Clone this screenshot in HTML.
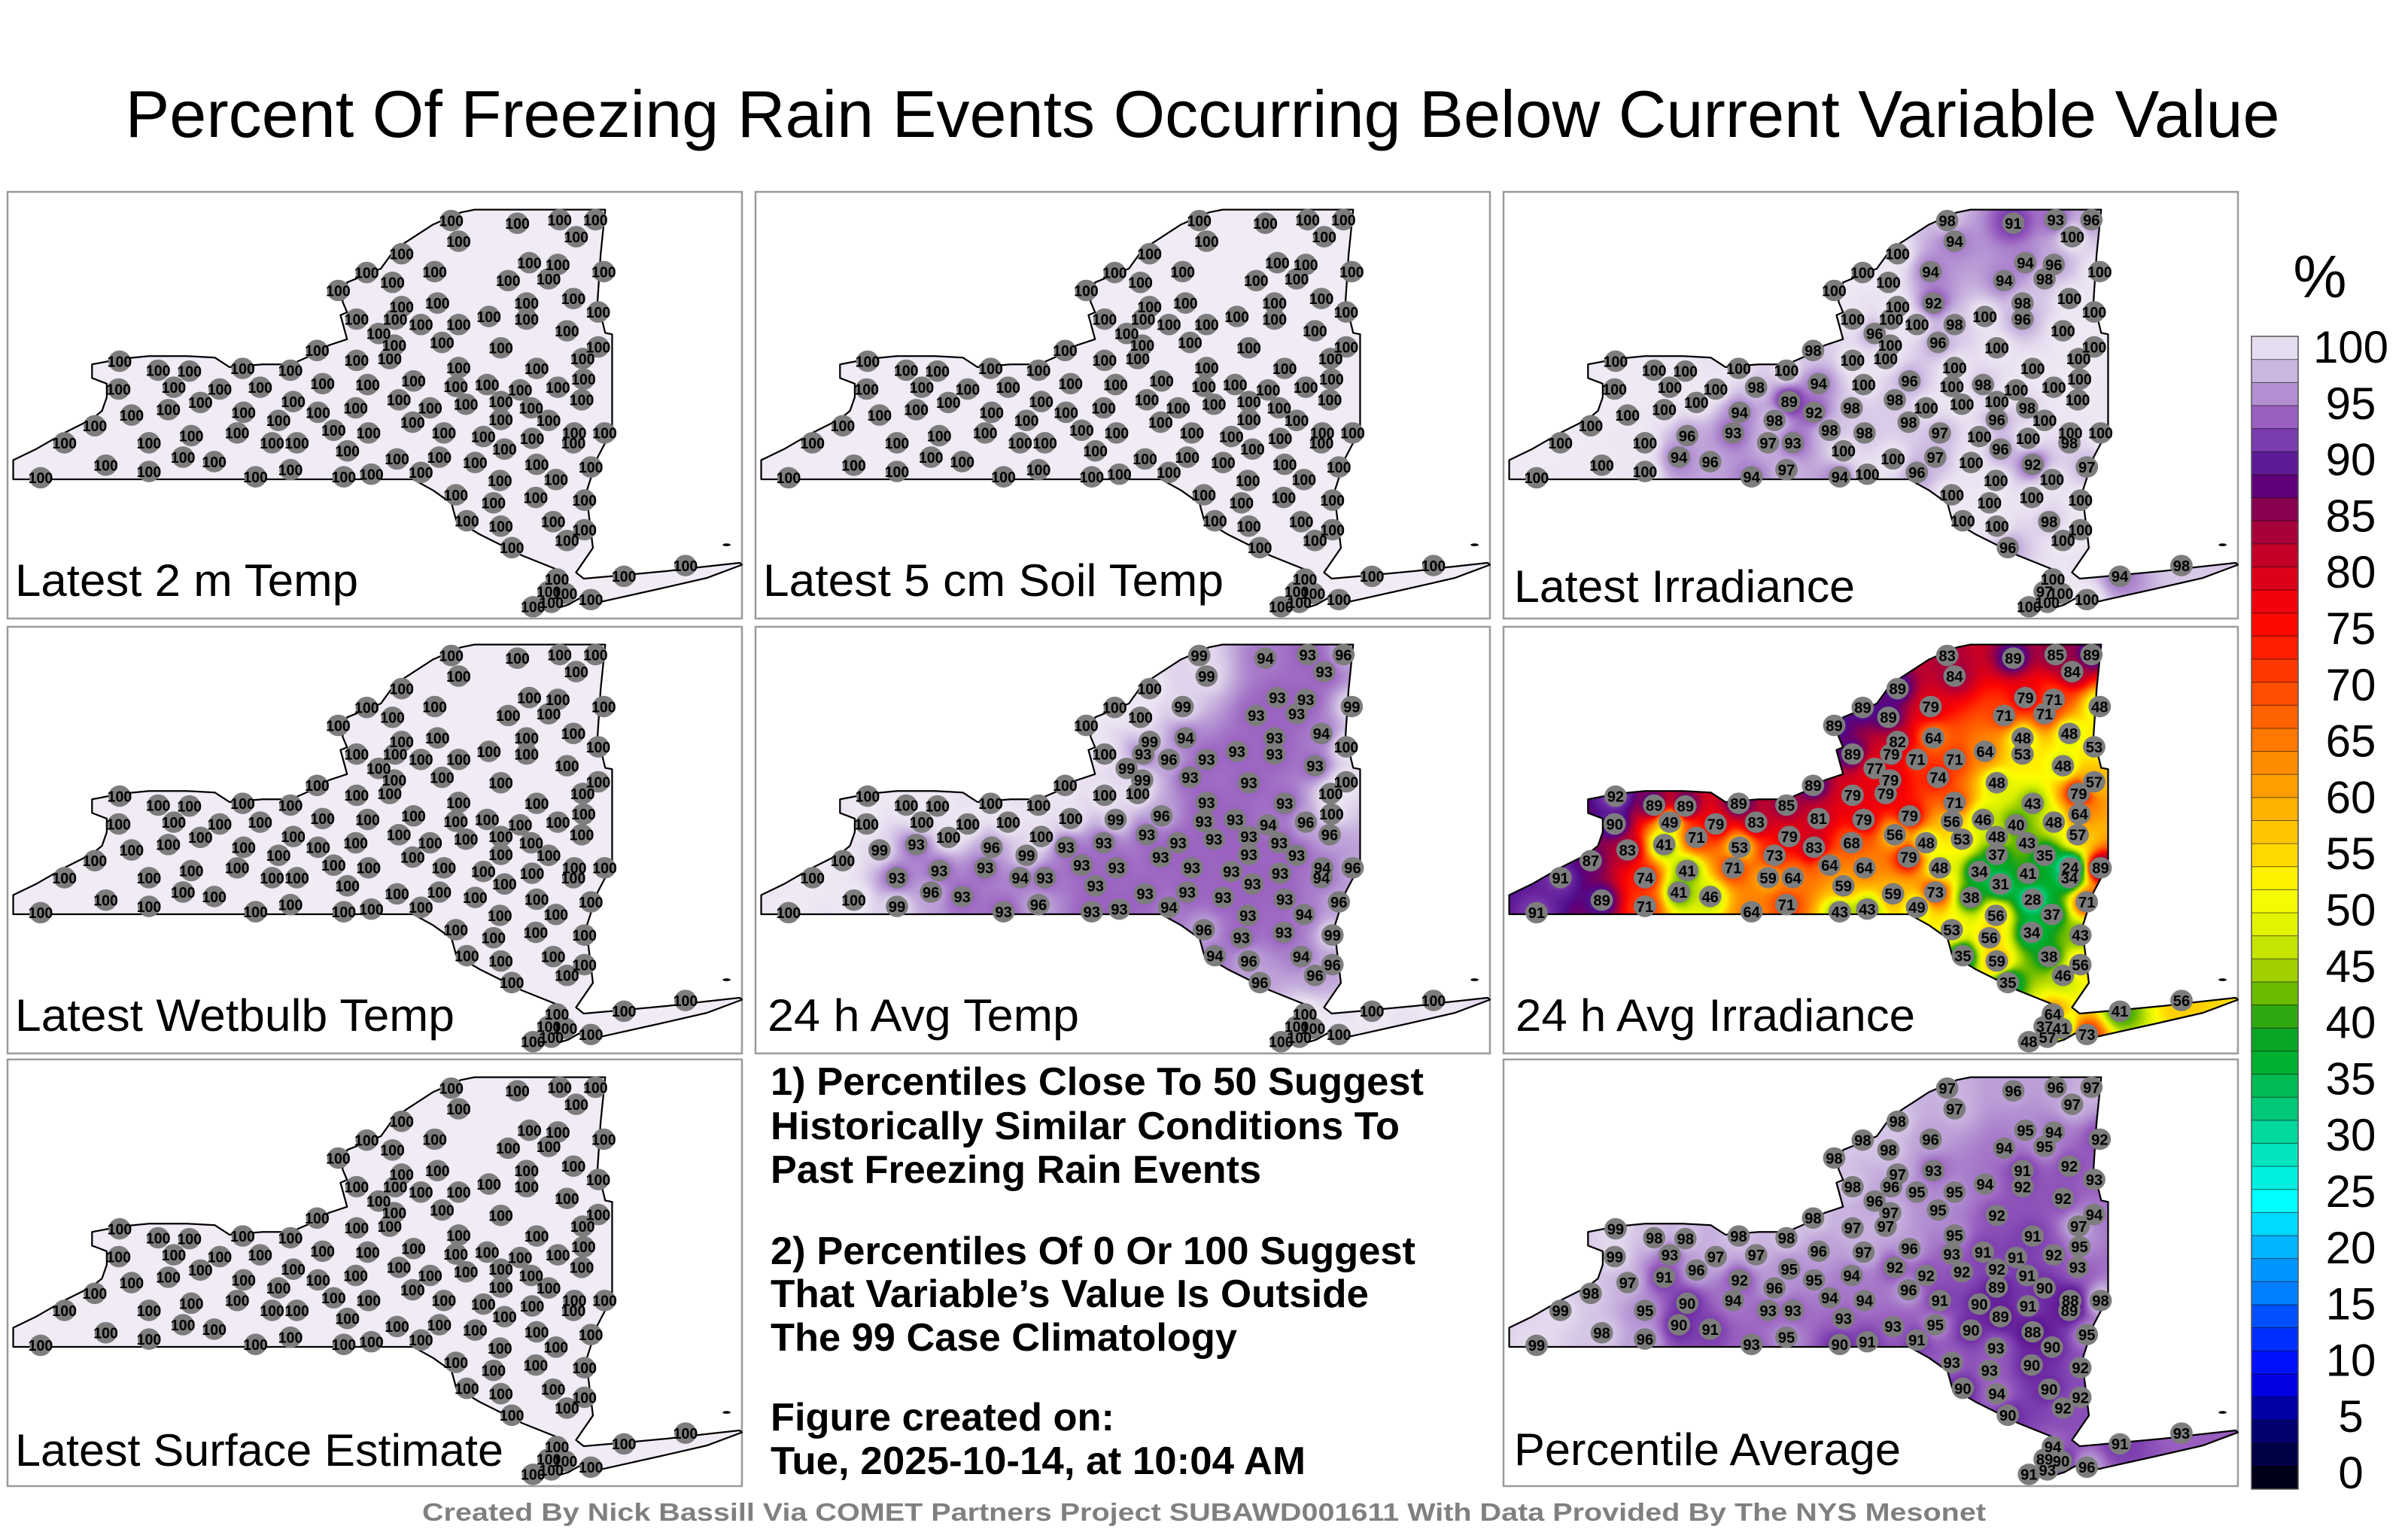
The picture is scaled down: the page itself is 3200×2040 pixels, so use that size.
<!DOCTYPE html>
<html><head><meta charset="utf-8">
<style>
html,body{margin:0;padding:0;background:#fff}
body{width:3200px;height:2040px;position:relative;overflow:hidden;font-family:"Liberation Sans",sans-serif}
canvas{position:absolute}
#overlay{position:absolute;left:0;top:0}
</style></head>
<body>
<div id="maps"></div>
<svg id="overlay" width="3200" height="2040" xmlns="http://www.w3.org/2000/svg">
<text x="1598" y="182" text-anchor="middle" font-size="88" textLength="2863" lengthAdjust="spacingAndGlyphs" fill="#000">Percent Of Freezing Rain Events Occurring Below Current Variable Value</text>
<g id="panels"></g>
<g id="notes" font-weight="bold" font-size="52" fill="#000">
<text x="1024" y="1455" textLength="868" lengthAdjust="spacingAndGlyphs">1) Percentiles Close To 50 Suggest</text>
<text x="1024" y="1514" textLength="836" lengthAdjust="spacingAndGlyphs">Historically Similar Conditions To</text>
<text x="1024" y="1572" textLength="652" lengthAdjust="spacingAndGlyphs">Past Freezing Rain Events</text>
<text x="1024" y="1680" textLength="857" lengthAdjust="spacingAndGlyphs">2) Percentiles Of 0 Or 100 Suggest</text>
<text x="1024" y="1737" textLength="795" lengthAdjust="spacingAndGlyphs">That Variable’s Value Is Outside</text>
<text x="1024" y="1795" textLength="620" lengthAdjust="spacingAndGlyphs">The 99 Case Climatology</text>
<text x="1024" y="1901" textLength="457" lengthAdjust="spacingAndGlyphs">Figure created on:</text>
<text x="1024" y="1959" textLength="711" lengthAdjust="spacingAndGlyphs">Tue, 2025-10-14, at 10:04 AM</text>
</g>
<text x="1600" y="2021" text-anchor="middle" font-size="33" font-weight="bold" fill="#808080" textLength="2078" lengthAdjust="spacingAndGlyphs">Created By Nick Bassill Via COMET Partners Project SUBAWD001611 With Data Provided By The NYS Mesonet</text>
<g id="colorbar">
<text x="3083" y="395" text-anchor="middle" font-size="80">%</text>
</g>
</svg>
<script>
// ---- station data (longitude / latitude) ----
const stationLon = [-74.99,-74.27,-73.81,-73.42,-73.63,-74.91,-75.53,-75.17,-75.91,-75.63,-76.22,-74.14,-73.83,-74.37,-73.93,-73.33,-75.14,-75.53,-74.17,-73.66,-76.02,-75.60,-75.32,-74.91,-74.58,-74.17,-73.39,-75.78,-73.73,-75.09,-75.61,-74.45,-73.39,-76.45,-76.02,-75.66,-74.91,-74.06,-73.56,-78.60,-78.18,-77.84,-77.26,-76.74,-78.61,-78.01,-77.51,-77.07,-76.39,-75.90,-75.40,-74.94,-74.60,-74.24,-73.83,-73.55,-77.72,-78.07,-76.71,-77.25,-76.03,-75.56,-75.22,-74.83,-74.45,-74.12,-73.57,-78.47,-76.87,-76.44,-74.45,-73.93,-78.87,-75.41,-77.82,-77.32,-76.27,-75.89,-75.07,-74.64,-74.11,-73.65,-73.32,-73.66,-79.20,-78.28,-76.94,-76.67,-76.12,-74.41,-77.91,-77.57,-75.58,-75.12,-74.73,-74.06,-73.47,-78.75,-78.28,-79.46,-77.12,-76.74,-76.16,-75.86,-75.32,-74.46,-73.85,-74.94,-74.53,-74.07,-73.54,-74.82,-74.45,-73.88,-73.54,-73.73,-74.33,-73.84,-73.93,-73.75,-74.10,-73.90,-73.47,-73.11,-72.44];
const stationLat = [44.89,44.86,44.90,44.90,44.71,44.66,44.52,44.32,44.31,44.20,44.11,44.42,44.40,44.22,44.24,44.32,43.97,43.93,43.97,44.02,43.79,43.79,43.73,43.73,43.82,43.79,43.87,43.63,43.66,43.53,43.50,43.47,43.48,43.44,43.33,43.35,43.25,43.24,43.35,43.32,43.22,43.21,43.24,43.22,43.01,43.03,43.01,43.03,43.07,43.06,43.10,43.04,43.06,43.00,43.03,43.12,42.86,42.78,42.87,42.75,42.80,42.89,42.80,42.84,42.87,42.80,42.89,42.72,42.66,42.75,42.67,42.66,42.60,42.64,42.49,42.52,42.55,42.52,42.52,42.48,42.46,42.52,42.52,42.41,42.41,42.41,42.41,42.41,42.32,42.34,42.25,42.20,42.23,42.25,42.19,42.17,42.14,42.16,42.09,42.02,42.03,42.11,42.03,42.06,42.08,41.99,42.00,41.83,41.74,41.80,41.77,41.54,41.48,41.53,41.44,41.32,41.24,40.89,40.75,40.73,40.58,40.63,40.66,40.92,41.04];

// ---- percentile values per panel ----
const temp2mValues = [100,100,100,100,100,100,100,100,100,100,100,100,100,100,100,100,100,100,100,100,100,100,100,100,100,100,100,100,100,100,100,100,100,100,100,100,100,100,100,100,100,100,100,100,100,100,100,100,100,100,100,100,100,100,100,100,100,100,100,100,100,100,100,100,100,100,100,100,100,100,100,100,100,100,100,100,100,100,100,100,100,100,100,100,100,100,100,100,100,100,100,100,100,100,100,100,100,100,100,100,100,100,100,100,100,100,100,100,100,100,100,100,100,100,100,100,100,100,100,100,100,100,100,100,100];
const soilTempValues = [100,100,100,100,100,100,100,100,100,100,100,100,100,100,100,100,100,100,100,100,100,100,100,100,100,100,100,100,100,100,100,100,100,100,100,100,100,100,100,100,100,100,100,100,100,100,100,100,100,100,100,100,100,100,100,100,100,100,100,100,100,100,100,100,100,100,100,100,100,100,100,100,100,100,100,100,100,100,100,100,100,100,100,100,100,100,100,100,100,100,100,100,100,100,100,100,100,100,100,100,100,100,100,100,100,100,100,100,100,100,100,100,100,100,100,100,100,100,100,100,100,100,100,100,100];
const irradianceValues = [98,91,93,96,100,94,100,94,100,100,100,94,96,94,98,100,92,100,98,100,100,100,100,98,100,96,100,96,100,96,100,100,100,98,100,100,100,100,100,100,100,100,100,100,100,100,100,98,94,100,96,100,98,100,100,100,100,100,89,94,98,98,100,100,100,98,100,100,98,92,96,100,100,98,96,93,98,98,97,100,100,100,100,98,100,100,97,93,100,96,94,96,100,97,100,92,97,100,100,100,94,97,94,100,96,100,100,100,100,100,100,100,100,98,100,100,96,100,97,100,100,100,100,94,98];
const wetbulbValues = [100,100,100,100,100,100,100,100,100,100,100,100,100,100,100,100,100,100,100,100,100,100,100,100,100,100,100,100,100,100,100,100,100,100,100,100,100,100,100,100,100,100,100,100,100,100,100,100,100,100,100,100,100,100,100,100,100,100,100,100,100,100,100,100,100,100,100,100,100,100,100,100,100,100,100,100,100,100,100,100,100,100,100,100,100,100,100,100,100,100,100,100,100,100,100,100,100,100,100,100,100,100,100,100,100,100,100,100,100,100,100,100,100,100,100,100,100,100,100,100,100,100,100,100,100];
const avgTempValues = [99,94,93,96,93,99,100,99,100,100,100,93,93,93,93,99,94,99,93,94,100,93,96,93,93,93,100,99,93,93,99,93,100,100,100,100,93,93,100,100,100,100,100,100,100,100,100,100,100,99,96,93,93,94,96,100,100,93,100,96,93,93,93,93,93,93,96,99,99,93,93,93,100,93,93,93,93,93,93,93,93,94,96,94,100,93,94,93,93,93,96,93,93,93,93,93,96,100,99,100,93,96,93,93,94,93,94,96,93,93,99,94,96,94,96,96,96,100,100,100,100,100,100,100,100];
const avgIrradianceValues = [83,89,85,89,84,84,89,79,89,89,89,79,71,71,71,48,64,82,48,48,89,79,71,71,64,53,53,77,48,74,79,48,57,89,79,79,71,43,79,92,89,89,89,85,90,49,79,83,81,79,79,56,46,40,48,64,71,41,79,53,68,56,48,53,48,43,57,83,73,83,37,35,87,79,41,71,64,64,48,34,41,24,89,34,91,74,59,64,59,31,41,46,59,73,38,28,71,89,71,91,64,71,43,43,49,56,37,53,56,34,43,35,59,38,56,46,35,64,37,41,48,57,73,41,56];
const surfaceEstValues = [100,100,100,100,100,100,100,100,100,100,100,100,100,100,100,100,100,100,100,100,100,100,100,100,100,100,100,100,100,100,100,100,100,100,100,100,100,100,100,100,100,100,100,100,100,100,100,100,100,100,100,100,100,100,100,100,100,100,100,100,100,100,100,100,100,100,100,100,100,100,100,100,100,100,100,100,100,100,100,100,100,100,100,100,100,100,100,100,100,100,100,100,100,100,100,100,100,100,100,100,100,100,100,100,100,100,100,100,100,100,100,100,100,100,100,100,100,100,100,100,100,100,100,100,100];
const percentileAvgValues = [97,96,96,97,97,97,98,96,98,98,98,95,94,94,95,92,93,97,91,92,98,96,95,95,94,92,93,96,92,95,97,92,94,98,97,97,95,91,97,99,98,98,98,98,99,93,97,97,96,97,96,93,91,91,92,95,96,91,95,92,94,92,92,92,92,91,93,97,96,95,89,90,98,96,90,94,94,94,91,90,91,88,98,89,99,95,93,93,93,89,90,91,93,95,90,88,95,98,96,99,93,95,90,91,91,93,90,93,93,90,92,90,94,90,92,92,90,94,89,90,91,93,96,91,93];

// ---- colorbar tick labels ----
const colorbarTicks = [0,5,10,15,20,25,30,35,40,45,50,55,60,65,70,75,80,85,90,95,100];

const NS = "http://www.w3.org/2000/svg";
const colorStops = [[0,'#000000'],[2,'#000030'],[5,'#000070'],[8,'#0000c0'],[10,'#0000ff'],[12,'#0020ff'],[15,'#0050ff'],[17,'#0080ff'],[20,'#00a0ff'],[22,'#00c8ff'],[25,'#00ffff'],[27,'#00f0e0'],[30,'#00e0b0'],[33,'#00c878'],[37,'#00b030'],[40,'#10a020'],[42,'#50b000'],[45,'#a0d000'],[48,'#d8f000'],[52,'#ffff00'],[55,'#ffd800'],[60,'#ffa800'],[65,'#ff7800'],[70,'#ff4400'],[75,'#ff0800'],[78,'#e80010'],[82,'#b80030'],[85,'#880050'],[87,'#600078'],[88,'#50108e'],[90,'#6a249e'],[91,'#7a3cae'],[93,'#9a60c0'],[95,'#b290d2'],[97,'#cbb6e0'],[99,'#e6dcef'],[100,'#f0ebf5']];
function hexRGB(h){return [parseInt(h.substr(1,2),16),parseInt(h.substr(3,2),16),parseInt(h.substr(5,2),16)];}
const stopRGB = colorStops.map(s=>[s[0],hexRGB(s[1])]);
function colorOf(v){
  if(v<=0) return stopRGB[0][1];
  for(let i=1;i<stopRGB.length;i++){
    if(v<=stopRGB[i][0]){
      const a=stopRGB[i-1],b=stopRGB[i];const t=(v-a[0])/(b[0]-a[0]);
      return [0,1,2].map(k=>Math.round(a[1][k]+(b[1][k]-a[1][k])*t));
    }
  }
  return stopRGB[stopRGB.length-1][1];
}
function projX(lon){return (lon+79.82)*59.79;}
function projY(lat){return (45.21-lat)*58.39;}

const outlinePath = "M3.7,174.8 L3.7,187.3 L264,187.3 L277,194.5 L289,203 L292,214 L307,223 L335,237 L360,247 L364,254 L358,262 L346,268 L352,273 L365,269 L372,265 L384,267.6 L424,258.7 L455,251.6 L478,243 L476.5,241.7 L452,244.4 L430,247 L400,249.8 L375,252 L370,248 L381,232 L376.6,196 L384,173 L393.5,155 L393.5,92.8 L389,91.9 L384,71.4 L386,41 L389,11.6 L304,11.6 L295,13.4 L276.7,21.4 L252,37.5 L243,50 L221,59 L218,71.4 L221,78.5 L216.7,80.3 L221,96 L209,100 L196.7,107 L184.4,112.4 L166,112.4 L144.5,114.2 L135,108 L116.8,107 L92,107 L73.8,108.8 L55,112.4 L55,121.3 L64.6,125 L64.6,133.8 L61.5,142.7 L55,148 L37,157 L18.4,167.7 Z";

const panels = [
 {id:'latest-2m-temp', x:10, y:255, vals:temp2mValues, label:'Latest 2 m Temp', lx:20, ly:792, lw:456},
 {id:'latest-5cm-soil-temp', x:1004, y:255, vals:soilTempValues, label:'Latest 5 cm Soil Temp', lx:1014, ly:792, lw:612},
 {id:'latest-irradiance', x:1998, y:255, vals:irradianceValues, label:'Latest Irradiance', lx:2012, ly:800, lw:453},
 {id:'latest-wetbulb-temp', x:10, y:833, vals:wetbulbValues, label:'Latest Wetbulb Temp', lx:20, ly:1370, lw:584},
 {id:'avg-24h-temp', x:1004, y:833, vals:avgTempValues, label:'24 h Avg Temp', lx:1020, ly:1370, lw:414},
 {id:'avg-24h-irradiance', x:1998, y:833, vals:avgIrradianceValues, label:'24 h Avg Irradiance', lx:2014, ly:1370, lw:531},
 {id:'latest-surface-estimate', x:10, y:1408, vals:surfaceEstValues, label:'Latest Surface Estimate', lx:20, ly:1948, lw:649},
 {id:'percentile-average', x:1998, y:1408, vals:percentileAvgValues, label:'Percentile Average', lx:2012, ly:1947, lw:514}
];

const PW=976, PH=567, SX=PW/478, SY=PH/278;
const sx = stationLon.map(projX), sy = stationLat.map(projY);
const maps = document.getElementById('maps');
const gPanels = document.getElementById('panels');

panels.forEach(p=>{
  const cv = document.createElement('canvas');
  
  
  cv.width=PW; cv.height=PH;
  cv.style.left=p.x+'px'; cv.style.top=p.y+'px';
  maps.appendChild(cv);
  const GW=239, GH=139, off=document.createElement('canvas');
  off.width=GW; off.height=GH;
  const octx=off.getContext('2d'); const img=octx.createImageData(GW,GH);
  const n=p.vals.length;
  for(let j=0;j<GH;j++){
    const py=(j+0.5)*2;
    for(let i=0;i<GW;i++){
      const px=(i+0.5)*2; let sw=0,sv=0,exact=-1;
      for(let k=0;k<n;k++){
        const dx=px-sx[k],dy=py-sy[k];const d2=dx*dx+dy*dy;
        if(d2<0.01){exact=k;break;}
        const w=1/(d2*Math.sqrt(d2)); sw+=w; sv+=w*p.vals[k];
      }
      const v = exact>=0 ? p.vals[exact] : sv/sw;
      const c=colorOf(v); const o=(j*GW+i)*4;
      img.data[o]=c[0];img.data[o+1]=c[1];img.data[o+2]=c[2];img.data[o+3]=255;
    }
  }
  octx.putImageData(img,0,0);
  const ctx=cv.getContext('2d');
  ctx.scale(SX,SY);
  ctx.save();
  ctx.clip(new Path2D(outlinePath));
  ctx.imageSmoothingEnabled=true;
  ctx.drawImage(off,0,0,478,278);
  ctx.restore();

  const border=document.createElementNS(NS,'rect');
  
  
  border.setAttribute('x',p.x);border.setAttribute('y',p.y);
  border.setAttribute('width',PW);border.setAttribute('height',PH);
  border.setAttribute('fill','none');border.setAttribute('stroke','#9a9a9a');border.setAttribute('stroke-width','2.5');
  gPanels.appendChild(border);

  const g=document.createElementNS(NS,'g');
  
  
  g.setAttribute('transform','translate('+p.x+','+p.y+') scale('+SX+','+SY+')');
  gPanels.appendChild(g);
  const ol=document.createElementNS(NS,'path');
  
  
  ol.setAttribute('d',outlinePath);ol.setAttribute('fill','none');ol.setAttribute('stroke','#000');ol.setAttribute('stroke-width','1.1');ol.setAttribute('stroke-linejoin','round');
  g.appendChild(ol);
  const isl=document.createElementNS(NS,'ellipse');
  
  
  isl.setAttribute('cx','468');isl.setAttribute('cy','230');isl.setAttribute('rx','2.6');isl.setAttribute('ry','0.9');
  g.appendChild(isl);

  for(let k=0;k<n;k++){
    const dot=document.createElementNS(NS,'ellipse');
    
    
    dot.setAttribute('cx',sx[k]);dot.setAttribute('cy',sy[k]);
    dot.setAttribute('rx','7.3');dot.setAttribute('ry','7');dot.setAttribute('fill','#7d7d7d');
    g.appendChild(dot);
  }
  for(let k=0;k<n;k++){
    const t=document.createElementNS(NS,'text');
    
    
    const s=String(p.vals[k]);
    t.setAttribute('x',sx[k]);t.setAttribute('y',sy[k]+3.6);
    t.setAttribute('text-anchor','middle');t.setAttribute('font-size','10');t.setAttribute('font-weight','bold');
    t.setAttribute('textLength', s.length>2?'16':'11');t.setAttribute('lengthAdjust','spacingAndGlyphs');
    t.textContent=s;
    g.appendChild(t);
  }
  const lab=document.createElementNS(NS,'text');
  
  
  lab.setAttribute('x',p.lx);lab.setAttribute('y',p.ly);
  lab.setAttribute('font-size','60');
  lab.setAttribute('textLength',p.lw);lab.setAttribute('lengthAdjust','spacingAndGlyphs');
  lab.textContent=p.label;
  gPanels.appendChild(lab);
});

// ---- colorbar ----
const cb=document.getElementById('colorbar');
const barX=2992, barW=62, barTop=447, barBot=1979;
function barY(v){return barBot-(barBot-barTop)*v/100;}
for(let v=0; v<100; v+=2){
  const r=document.createElementNS(NS,'rect');
  
  
  const c=colorOf(v+1);
  r.setAttribute('x',barX);r.setAttribute('y',barY(v+2));r.setAttribute('width',barW);r.setAttribute('height',barY(v)-barY(v+2));
  r.setAttribute('fill','rgb('+c.join(',')+')');r.setAttribute('stroke','rgba(0,0,0,0.45)');r.setAttribute('stroke-width','1');
  cb.appendChild(r);
}
const frame=document.createElementNS(NS,'rect');


frame.setAttribute('x',barX);frame.setAttribute('y',barTop);frame.setAttribute('width',barW);frame.setAttribute('height',barBot-barTop);
frame.setAttribute('fill','none');frame.setAttribute('stroke','#555');frame.setAttribute('stroke-width','1.5');
cb.appendChild(frame);
colorbarTicks.forEach(v=>{
  const t=document.createElementNS(NS,'text');
  
  
  t.setAttribute('x','3124');t.setAttribute('y',1957-14.96*v+21);
  t.setAttribute('text-anchor','middle');t.setAttribute('font-size','60');
  t.textContent=String(v);
  cb.appendChild(t);
});
</script>
</body></html>
